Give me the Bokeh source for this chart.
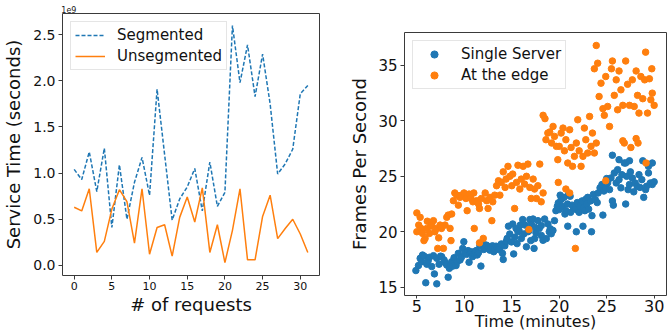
from bokeh.plotting import figure
from bokeh.layouts import row, column
from bokeh.models import FixedTicker, NumeralTickFormatter, LinearAxis, Range1d
from bokeh.embed import file_html
from bokeh.resources import INLINE

# ---------------- data: left chart (service time, units of 1e9) ----------------
requests = list(range(32))
segmented = [1.04, 0.93, 1.23, 0.80, 1.27, 0.41, 1.09, 0.50, 0.90, 1.17, 0.76, 1.91,
             1.20, 0.49, 0.72, 0.85, 1.05, 0.59, 1.12, 0.64, 0.79, 2.60, 1.98, 2.39,
             1.83, 2.29, 1.75, 0.99, 1.10, 1.26, 1.86, 1.95]
unsegmented = [0.63, 0.59, 0.83, 0.14, 0.26, 0.61, 0.82, 0.69, 0.24, 0.83, 0.12, 0.41,
               0.44, 0.10, 0.52, 0.74, 0.47, 0.84, 0.14, 0.44, 0.03, 0.38, 0.83, 0.06,
               0.06, 0.53, 0.76, 0.29, 0.40, 0.50, 0.34, 0.14]
left_yticks = [0.0, 0.5, 1.0, 1.5, 2.0, 2.5]
left_xticks = [0, 5, 10, 15, 20, 25, 30]
scale_text = "1e9"

# ---------------- data: right chart (frames per second) ----------------
single_x = [4.9, 5.17, 5.35, 5.5, 5.6, 5.77, 5.94, 6.05, 6.2, 6.33, 6.57, 6.75, 6.85, 7.1, 7.1,
            7.34, 7.5, 7.62, 7.87, 8.0, 8.15, 8.3, 8.43, 8.55, 8.67, 8.8, 8.92, 9.13, 9.25, 9.37,
            9.55, 9.7, 9.83, 9.95, 10.07, 10.24, 10.4, 10.5, 10.6, 10.75, 10.87, 11.0, 11.12, 11.25,
            11.36, 11.5, 11.64, 11.75, 11.92, 12.05, 12.17, 12.3, 12.41, 12.55, 12.69, 12.8, 12.97,
            13.1, 13.22, 13.35, 13.46, 13.6, 13.74, 13.9, 14.02, 14.1, 14.27, 14.4, 14.51, 14.65,
            14.79, 14.97, 15.1, 15.2, 15.31, 15.45, 15.56, 15.65, 15.77, 15.9, 16.01, 16.15, 16.26,
            16.4, 16.54, 16.7, 16.82, 16.9, 17.0, 17.06, 17.24, 17.35, 17.41, 17.41, 17.55, 17.76,
            17.9, 18.11, 18.11, 18.29, 18.46, 18.64, 18.81, 18.95, 19.06, 19.16, 19.34, 19.5, 19.65,
            19.8, 19.9, 20.0, 20.1, 20.2, 20.35, 20.5, 20.6, 20.7, 20.87, 20.9, 21.0, 21.15, 21.2,
            21.35, 21.5, 21.7, 21.8, 21.9, 22.0, 22.1, 22.2, 22.4, 22.5, 22.6, 22.7, 22.8, 22.9,
            23.0, 23.1, 23.3, 23.4, 23.45, 23.6, 23.8, 24.0, 24.1, 24.3, 24.5, 24.6, 24.7, 24.9,
            25.0, 25.1, 25.3, 25.45, 25.6, 25.6, 25.7, 25.8, 26.0, 26.15, 26.3, 26.3, 26.5, 26.6,
            26.85, 27.0, 27.0, 27.1, 27.25, 27.4, 27.4, 27.5, 27.7, 27.85, 28.0, 28.2, 28.4, 28.5,
            28.7, 28.8, 28.9, 29.1, 29.2, 29.4, 29.4, 29.6, 29.8, 29.8, 30.0]
single_y = [16.5, 16.95, 17.6, 17.3, 17.9, 17.8, 15.4, 17.07, 17.4, 17.7, 16.86, 17.84, 16.2, 17.6, 15.3,
            17.07, 17.8, 17.75, 17.45, 17.2, 17.0, 15.9, 16.7, 17.0, 17.3, 16.9, 17.66, 16.95, 17.3, 18.05,
            17.45, 17.7, 18.5, 19.1, 18.05, 17.96, 18.3, 17.25, 18.14, 18.2, 17.75, 18.0, 18.05, 18.3,
            17.9, 18.1, 18.73, 16.9, 18.93, 18.4, 18.5, 18.8, 18.73, 18.6, 18.34, 18.6, 18.73,
            18.2, 18.5, 18.7, 18.55, 18.4, 18.43, 18.9, 18.05, 17.5, 18.73, 19.1, 19.4, 20.5,
            19.8, 19.08, 20.7, 18.0, 19.5, 20.3, 18.93, 20.0, 20.1, 20.6, 19.4, 21.1, 19.8,
            20.6, 18.64, 20.0, 20.1, 21.1, 19.2, 20.7, 21.15, 18.5, 20.41, 19.38, 19.9, 21.0,
            20.3, 20.56, 19.67, 19.23, 21.15, 19.38, 20.7, 20.0, 20.27, 19.82, 20.12, 21.0, 21.9,
            22.3, 22.6, 22.0, 23.3, 22.9, 22.3, 23.1, 21.6, 21.9, 22.5, 20.5, 23.4, 23.2, 21.75,
            22.4, 22.2, 22.04, 20.0, 22.63, 21.9, 21.75, 22.34, 22.78, 20.5, 22.2, 21.9, 22.93, 22.5,
            23.1, 22.04, 22.78, 20.0, 21.45, 23.37, 22.9, 22.63, 23.5, 23.96, 24.26, 21.5, 23.67, 23.96,
            24.8, 24.4, 23.8, 24.85, 22.78, 26.9, 22.4, 25.3, 24.4, 25.6, 24.7, 26.5, 23.96, 25.15,
            26.2, 22.5, 26.2, 25.0, 23.8, 24.26, 26.4, 25.4, 24.85, 23.6, 24.4, 24.1, 25.15, 24.0,
            24.7, 26.4, 23.1, 23.8, 24.1, 25.3, 25.9, 24.4, 26.2, 24.26, 24.5]

edge_x = [5.0, 5.0, 5.2, 5.35, 5.45, 5.6, 5.75, 5.87, 6.05, 6.1, 6.33, 6.45, 6.57, 6.75, 6.9, 7.1,
          7.2, 7.3, 7.45, 7.6, 7.8, 7.97, 8.15, 8.3, 8.5, 8.6, 8.67, 8.85, 9.0, 9.2, 9.37, 9.55,
          9.7, 9.97, 10.17, 10.3, 10.5, 10.7, 10.9, 11.0, 11.05, 11.3, 11.5, 11.6, 11.6, 11.8,
          12.0, 12.2, 12.35, 12.5, 12.7, 12.9, 13.0, 13.2, 13.4, 13.6, 13.75, 13.9, 14.1, 14.3,
          14.4, 14.6, 14.8, 15.0, 15.1, 15.3, 15.5, 15.65, 15.85, 16.0, 16.2, 16.35, 16.55, 16.7,
          16.8, 16.9, 17.05, 17.25, 17.4, 17.6, 17.75, 17.95, 18.1, 18.3, 18.3, 18.5, 18.6, 18.8,
          19.0, 19.2, 19.35, 19.5, 19.7, 19.85, 19.9, 20.0, 20.2, 20.4, 20.55, 20.7, 20.7, 20.9,
          21.1, 21.1, 21.25, 21.4, 21.6, 21.7, 21.8, 21.95, 22.1, 22.3, 22.5, 22.65, 22.8, 23.0,
          23.2, 23.35, 23.5, 23.7, 23.7, 23.9, 23.9, 24.05, 24.2, 24.4, 24.6, 24.75, 24.9, 24.9,
          25.1, 25.3, 25.5, 25.6, 25.8, 26.0, 26.15, 26.3, 26.5, 26.7, 26.7, 26.85, 27.0, 27.2,
          27.4, 27.55, 27.7, 27.9, 28.1, 28.1, 28.25, 28.3, 28.4, 28.6, 28.8, 29.0, 29.1, 29.15,
          29.3, 29.5, 29.65, 29.75, 29.8, 30.0]
edge_y = [21.7, 20.0, 20.6, 21.3, 20.3, 19.85, 19.2, 19.4, 20.3, 20.95, 19.85, 20.5, 20.6, 21.0, 20.0, 20.3,
          18.5, 19.45, 20.6, 20.3, 18.5, 20.6, 21.3, 21.5, 20.3, 19.2, 21.6, 22.8, 23.5, 23.3, 22.4, 23.1,
          23.3, 23.5, 23.0, 21.9, 23.4, 23.0, 22.7, 23.5, 20.3, 22.8, 22.5, 19.0, 22.1, 23.0,
          19.4, 23.5, 22.8, 22.1, 23.1, 21.0, 22.7, 23.3, 24.15, 24.6, 23.3, 24.45, 25.4, 24.0,
          24.75, 25.9, 25.0, 24.15, 25.2, 22.1, 24.45, 26.0, 23.85, 24.75, 25.9, 24.3, 25.0, 26.1,
          20.2, 24.0, 23.0, 24.75, 23.85, 23.0, 24.15, 26.1, 22.7, 23.5, 30.5, 30.2, 28.3, 28.9,
          29.0, 28.0, 29.5, 28.6, 27.7, 26.5, 24.45, 27.7, 28.9, 29.35, 27.3, 28.3, 23.85, 26.2,
          29.2, 23.5, 27.6, 25.9, 26.8, 18.5, 28.0, 30.1, 27.3, 25.9, 26.8, 29.35, 28.3, 27.1,
          30.4, 27.7, 28.9, 27.1, 34.7, 28.0, 36.8, 35.2, 32.2, 33.4, 31.1, 30.5, 34.0, 24.6,
          31.3, 29.5, 34.7, 35.4, 32.3, 33.7, 31.0, 34.5, 32.8, 31.4, 28.2, 28.0, 35.4, 33.3,
          31.4, 27.6, 33.7, 31.3, 34.5, 28.4, 32.3, 28.0, 30.7, 34.0, 32.0, 33.7, 36.2, 26.2,
          30.7, 33.8, 31.9, 34.7, 32.5, 31.4]
right_xticks = [5, 10, 15, 20, 25, 30]
right_yticks = [15, 20, 25, 30, 35]

FONT = "DejaVu Sans"
BLUE = "#1f77b4"
ORANGE = "#ff7f0e"


def style(p, tick_size, xtick_size, label_size):
    p.outline_line_color = "#3a3a3a"
    p.outline_line_width = 1
    p.xgrid.visible = False
    p.ygrid.visible = False
    for ax in (p.xaxis[0], p.yaxis[0]):
        ax.axis_line_color = None
        ax.major_tick_in = 0
        ax.major_tick_out = 4
        ax.major_tick_line_color = "#3a3a3a"
        ax.minor_tick_line_color = None
        ax.major_label_text_font = FONT
        ax.major_label_text_color = "#111111"
        ax.axis_label_text_font = FONT
        ax.axis_label_text_font_style = "normal"
        ax.axis_label_text_font_size = label_size
        ax.axis_label_text_color = "#111111"
    p.yaxis[0].major_label_text_font_size = tick_size
    p.xaxis[0].major_label_text_font_size = xtick_size


def style_legend(p):
    lg = p.legend[0]
    lg.location = "top_left"
    lg.margin = 8
    lg.padding = 4
    lg.spacing = 3
    lg.glyph_height = 18
    lg.label_height = 18
    lg.label_text_font = FONT
    lg.label_text_font_size = "15px"
    lg.label_text_color = "#111111"
    lg.border_line_color = "#cccccc"
    lg.border_line_width = 1
    lg.background_fill_alpha = 0.85


# ---------------- left figure ----------------
p1 = figure(width=340, height=335, output_backend="svg", toolbar_location=None, title=None,
            x_range=Range1d(-1.55, 32.55), y_range=Range1d(-0.11, 2.73),
            min_border_left=60, min_border_right=21, min_border_top=13, min_border_bottom=60)
p1.line(requests, segmented, line_color=BLUE, line_width=1.5, line_dash="4 2",
        legend_label="Segmented")
p1.line(requests, unsegmented, line_color=ORANGE, line_width=1.5, legend_label="Unsegmented")
style(p1, "14px", "11px", "18px")
p1.xaxis[0].ticker = FixedTicker(ticks=left_xticks)
p1.yaxis[0].ticker = FixedTicker(ticks=left_yticks)
p1.yaxis[0].formatter = NumeralTickFormatter(format="0.0")
p1.xaxis[0].axis_label = "# of requests"
p1.yaxis[0].axis_label = "Service Time (seconds)"
p1.xaxis[0].major_label_standoff = 2
p1.xaxis[0].axis_label_standoff = 1
p1.yaxis[0].major_label_standoff = 3
p1.yaxis[0].axis_label_standoff = 6
style_legend(p1)
p1.legend[0].glyph_width = 30
p1.legend[0].label_standoff = 12

# offset-text "1e9" above the top-left corner of the frame
scale_axis = LinearAxis(ticker=FixedTicker(ticks=[-0.7]),
                        major_label_overrides={-0.7: scale_text})
scale_axis.axis_line_color = None
scale_axis.major_tick_line_color = None
scale_axis.minor_tick_line_color = None
scale_axis.major_tick_out = 0
scale_axis.major_tick_in = 0
scale_axis.major_label_standoff = 1
scale_axis.major_label_text_font = FONT
scale_axis.major_label_text_font_size = "8px"
scale_axis.major_label_text_color = "#222222"
p1.add_layout(scale_axis, "above")

# ---------------- right figure ----------------
p2 = figure(width=327, height=335, output_backend="svg", toolbar_location=None, title=None,
            x_range=Range1d(3.7, 31.3), y_range=Range1d(14.25, 37.97),
            min_border_left=64, min_border_right=1, min_border_top=32, min_border_bottom=40)
p2.scatter(single_x, single_y, size=6.5, color=BLUE, legend_label="Single Server")
p2.scatter(edge_x, edge_y, size=6.5, color=ORANGE, legend_label="At the edge")
style(p2, "15px", "16px", "18px")
p2.xaxis[0].axis_label_text_font_size = "16px"
p2.xaxis[0].major_tick_out = 3
p2.xaxis[0].ticker = FixedTicker(ticks=right_xticks)
p2.yaxis[0].ticker = FixedTicker(ticks=right_yticks)
p2.xaxis[0].axis_label = "Time (minutes)"
p2.yaxis[0].axis_label = "Frames Per Second"
p2.xaxis[0].major_label_standoff = 1
p2.xaxis[0].axis_label_standoff = -3
p2.yaxis[0].major_label_standoff = 3
p2.yaxis[0].axis_label_standoff = 5
style_legend(p2)
p2.legend[0].glyph_width = 34
p2.legend[0].label_standoff = 10

# each figure in its own column so the row does not align their frames
layout = row(column(p1), column(p2))
open("out.html", "w").write(file_html(layout, INLINE))
